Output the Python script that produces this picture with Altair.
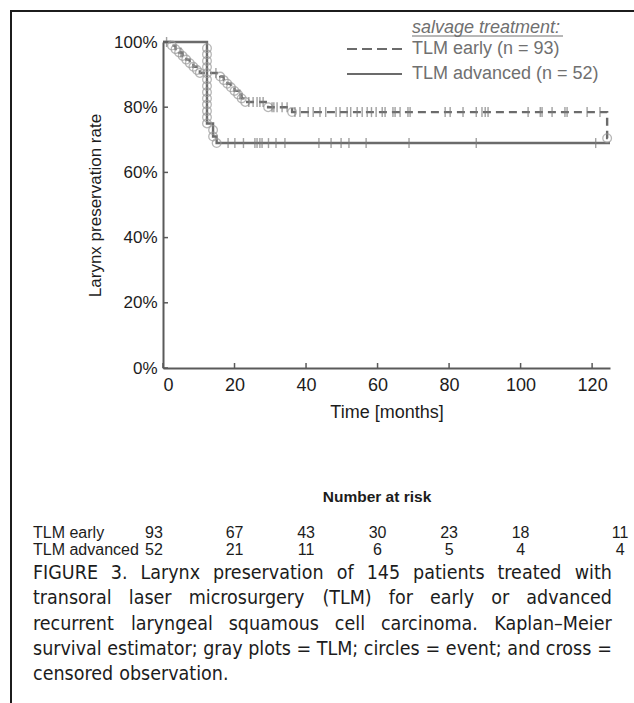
import altair as alt
import pandas as pd

# ---------------- data ----------------
# Kaplan-Meier estimates: time of each event (months) and survival after it (%)
early_event_t = [2.5, 3.5, 4.5, 5.5, 6.5, 7.5, 8.5, 9.5, 10.3,
                 16.0, 17.0, 18.0, 19.0, 20.0, 21.0, 22.0, 23.0,
                 29.4, 36.1, 124.2]
early_event_s = [98.9, 97.8, 96.8, 95.7, 94.6, 93.5, 92.4, 91.4, 90.5,
                 89.4, 88.3, 87.2, 86.1, 85.0, 83.9, 82.7, 81.6,
                 80.0, 78.5, 70.5]
early_censor_t = [1.0, 5.0, 14.8, 21.5, 24.0, 25.2, 26.3, 27.1, 28.0,
                  30.5, 31.0, 31.9, 33.3, 34.7, 36.9, 38.3, 40.6, 42.0,
                  43.9, 45.5, 48.4, 49.5, 51.5, 52.5, 54.3, 55.7, 57.1,
                  58.3, 59.6, 61.3, 62.1, 64.3, 64.9, 66.3, 68.5, 69.1,
                  78.9, 80.3, 83.9, 87.6, 89.2, 90.1, 90.9, 102.1, 105.5,
                  106.0, 108.8, 112.4, 113.0, 118.6, 122.2]

adv_event_t = [12.3, 12.3, 12.3, 12.3, 12.3, 12.3, 12.3, 12.3, 12.3,
               12.3, 12.3, 12.3, 12.3, 14.0, 14.0, 15.0]
adv_event_s = [98.1, 96.2, 94.2, 92.3, 90.4, 88.5, 86.5, 84.6, 82.7,
               80.8, 78.8, 76.9, 75.0, 73.0, 71.0, 69.0]
adv_censor_t = [18.2, 20.1, 22.5, 25.7, 26.3, 27.1, 27.7, 29.5, 31.6,
                34.1, 43.6, 47.0, 49.8, 52.0, 56.8, 68.8, 87.6, 121.0]

follow_up_end = 125

x_ticks = [0, 20, 40, 60, 80, 100, 120]
y_ticks = [0, 20, 40, 60, 80, 100]

risk_groups = ["TLM early", "TLM advanced"]
risk_early = [93, 67, 43, 30, 23, 18, 11]
risk_advanced = [52, 21, 11, 6, 5, 4, 4]

legend_labels = ["TLM early (n = 93)", "TLM advanced (n = 52)"]
caption_lines = [
    "FIGURE 3. Larynx preservation of 145 patients treated with",
    "transoral laser microsurgery (TLM) for early or advanced",
    "recurrent laryngeal squamous cell carcinoma. Kaplan\u2013Meier",
    "survival estimator; gray plots = TLM; circles = event; and cross =",
    "censored observation.",
]

# ---------------- layout ----------------
PAGE_W, PAGE_H = 634, 703
LEFT, TOP = 163, 42          # plot-area origin on the page
PW, PH = 447, 326            # plot-area size

CURVE = "#6b6b6b"
MARKER = "#9a9a9a"
INK = "#1c1c1c"
FONT = "Liberation Sans"
CAPTION_FONT = "DejaVu Sans Condensed"
CAPTION_SIZE = 19.5
CAPTION_X0, CAPTION_X1 = 33, 612
CAPTION_Y0, CAPTION_DY = 573, 25.3

# approximate advance widths (em) of the caption face, for justified lines
_ADV = {
    " ": .286, ".": .286, ";": .303, "(": .351, ")": .351, "=": .754, "\u2013": .45,
    "a": .551, "b": .571, "c": .495, "d": .571, "e": .554, "f": .317, "g": .571,
    "h": .570, "i": .250, "j": .250, "k": .521, "l": .250, "m": .877, "n": .570,
    "o": .551, "p": .571, "q": .571, "r": .370, "s": .469, "t": .353, "u": .570,
    "v": .533, "w": .736, "x": .533, "y": .533, "z": .472,
    "E": .569, "F": .518, "G": .697, "I": .265, "K": .590, "L": .501, "M": .777,
    "R": .625, "T": .550, "U": .659,
}


def word_width(w):
    return sum(_ADV.get(c, .573) for c in w) * CAPTION_SIZE


def caption_words():
    rows = []
    for k, line in enumerate(caption_lines):
        words = line.split(" ")
        widths = [word_width(w) for w in words]
        last = k == len(caption_lines) - 1
        if last or len(words) == 1:
            gap = _ADV[" "] * CAPTION_SIZE
        else:
            gap = (CAPTION_X1 - CAPTION_X0 - sum(widths)) / (len(words) - 1)
        x = CAPTION_X0
        for w, wd in zip(words, widths):
            rows.append({"word": w, "px": x - LEFT, "py": CAPTION_Y0 + CAPTION_DY * k - TOP})
            x += wd + gap
    return pd.DataFrame(rows)


def step_frame(ev_t, ev_s):
    t = [0] + list(ev_t) + [follow_up_end]
    s = [100] + list(ev_s) + [ev_s[-1]]
    return pd.DataFrame({"t": t, "s": s, "i": range(len(t))})


def level_at(t, ev_t, ev_s):
    level = 100
    for et, es in zip(ev_t, ev_s):
        if et <= t:
            level = es
    return level


early_line = step_frame(early_event_t, early_event_s)
adv_line = step_frame(adv_event_t, adv_event_s)
early_events = pd.DataFrame({"t": early_event_t, "s": early_event_s})
adv_events = pd.DataFrame({"t": adv_event_t, "s": adv_event_s})
early_cens = pd.DataFrame({"t": early_censor_t,
                           "s": [level_at(t, early_event_t, early_event_s) for t in early_censor_t]})
adv_cens = pd.DataFrame({"t": adv_censor_t,
                         "s": [level_at(t, adv_event_t, adv_event_s) for t in adv_censor_t]})

xs = alt.Scale(domain=[0, follow_up_end], nice=False, zero=False)
ys = alt.Scale(domain=[0, 100], nice=False)

x_axis = alt.Axis(values=x_ticks, title="Time [months]", grid=False, ticks=False,
                  labelFont=FONT, titleFont=FONT, labelFontSize=18, titleFontSize=18,
                  titleFontWeight="normal", labelColor=INK, titleColor=INK,
                  domainColor="#5a5a5a", domainWidth=2, labelPadding=8, titlePadding=9)
y_axis = alt.Axis(values=y_ticks, labelExpr="datum.value + '%'",
                  title="Larynx preservation rate", grid=False, ticks=False,
                  labelFont=FONT, titleFont=FONT, labelFontSize=17, titleFontSize=17,
                  titleFontWeight="normal", labelColor=INK, titleColor=INK,
                  domainColor="#5a5a5a", domainWidth=2, labelPadding=6, titlePadding=9)

X = alt.X("t:Q", scale=xs, axis=x_axis)
Y = alt.Y("s:Q", scale=ys, axis=y_axis)

layers = []

# survival curves
layers.append(alt.Chart(early_line).mark_line(
    interpolate="step-after", color=CURVE, strokeWidth=2.4, strokeDash=[8, 5]
).encode(x=X, y=Y, order="i:Q"))
layers.append(alt.Chart(adv_line).mark_line(
    interpolate="step-after", color=CURVE, strokeWidth=2.4
).encode(x=X, y=Y, order="i:Q"))

# events (open circles) and censored observations (vertical crosses)
for ev in (early_events, adv_events):
    layers.append(alt.Chart(ev).mark_point(
        shape="circle", filled=False, size=75, color=MARKER, strokeWidth=1.3
    ).encode(x=X, y=Y))
for cz in (early_cens, adv_cens):
    layers.append(alt.Chart(cz).mark_point(
        shape="M0,-1L0,1", filled=False, size=100, color="#7a7a7a", strokeWidth=1.4
    ).encode(x=X, y=Y))

# inward tick marks
layers.append(alt.Chart(pd.DataFrame({"t": x_ticks})).mark_rule(
    color="#5a5a5a", strokeWidth=1.5
).encode(x=X, y=alt.value(PH), y2=alt.value(PH - 5)))
layers.append(alt.Chart(pd.DataFrame({"s": y_ticks})).mark_rule(
    color="#5a5a5a", strokeWidth=1.5
).encode(y=Y, x=alt.value(0), x2=alt.value(5)))

one = pd.DataFrame({"k": [0]})


def rule(x1, y1, x2, y2, **kw):
    return alt.Chart(one).mark_rule(**kw).encode(
        x=alt.value(x1 - LEFT), y=alt.value(y1 - TOP),
        x2=alt.value(x2 - LEFT), y2=alt.value(y2 - TOP))


def label(s, x, y, **kw):
    return alt.Chart(one).mark_text(**kw).encode(
        x=alt.value(x - LEFT), y=alt.value(y - TOP), text=alt.value(s))


# frame around the figure
layers.append(rule(10, 11, PAGE_W + 5, 11, color=INK, strokeWidth=2))
layers.append(rule(11, 10, 11, PAGE_H + 5, color=INK, strokeWidth=2))

# legend
LEG = "#707070"
layers.append(label("salvage treatment:", 412, 33, align="left", baseline="alphabetic",
                    font=FONT, fontSize=18, fontStyle="italic", color=LEG))
layers.append(rule(412, 36, 563, 36, color=LEG, strokeWidth=1))
layers.append(rule(347, 49, 402, 49, color=CURVE, strokeWidth=2.2, strokeDash=[10, 5]))
layers.append(rule(347, 74, 402, 74, color=CURVE, strokeWidth=2.2))
layers.append(label(legend_labels[0], 412, 49, align="left", baseline="middle",
                    font=FONT, fontSize=18, color=LEG))
layers.append(label(legend_labels[1], 412, 74, align="left", baseline="middle",
                    font=FONT, fontSize=18, color=LEG))

# number-at-risk table
layers.append(label("Number at risk", 377, 497, align="center", baseline="middle",
                    font=FONT, fontSize=15.5, fontWeight="bold", color=INK))
for row_y, name, counts in ((533, risk_groups[0], risk_early),
                            (550, risk_groups[1], risk_advanced)):
    layers.append(label(name, 33, row_y, align="left", baseline="middle",
                        font=FONT, fontSize=16, color=INK))
    tbl = pd.DataFrame({"t": x_ticks, "n": [str(c) for c in counts]})
    first, mid, last = tbl.iloc[:1], tbl.iloc[1:-1], tbl.iloc[-1:]
    for part, dx in ((first, -9), (mid, 0), (last, 28)):
        layers.append(alt.Chart(part).mark_text(
            align="center", baseline="middle", font=FONT, fontSize=16, color=INK, dx=dx
        ).encode(x=X, y=alt.value(row_y - TOP), text="n:N"))

# caption, set justified word by word
layers.append(alt.Chart(caption_words()).mark_text(
    align="left", baseline="middle", font=CAPTION_FONT, fontSize=CAPTION_SIZE, color=INK
).encode(x=alt.X("px:Q", scale=None, axis=None),
         y=alt.Y("py:Q", scale=None, axis=None),
         text="word:N"))

chart = alt.layer(*layers).properties(
    width=PW, height=PH,
    autosize=alt.AutoSizeParams(type="none"),
    padding={"left": LEFT, "top": TOP, "right": PAGE_W - LEFT - PW,
             "bottom": PAGE_H - TOP - PH},
    background="white",
).configure_view(stroke=None)

chart.save("out.html", embed_options={"renderer": "svg", "actions": False})
